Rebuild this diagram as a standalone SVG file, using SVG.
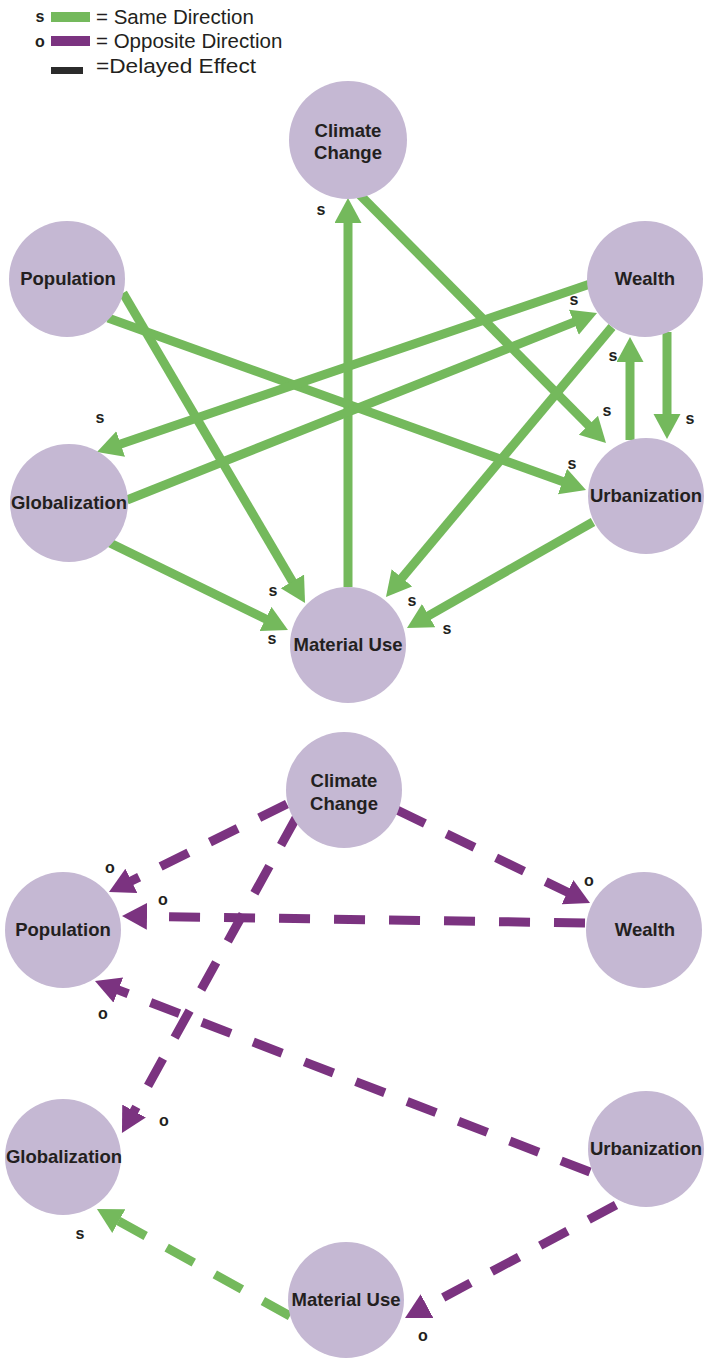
<svg xmlns="http://www.w3.org/2000/svg" width="706" height="1359" viewBox="0 0 706 1359">
<style>
.node{fill:#c5b8d3}
.lbl{font-family:"Liberation Sans",Arial,sans-serif;font-weight:bold;font-size:18.5px;fill:#231f20;text-anchor:middle}
.pol{font-family:"Liberation Sans",Arial,sans-serif;font-weight:bold;font-size:16px;fill:#231f20;text-anchor:middle}
.leg{font-family:"Liberation Sans",Arial,sans-serif;font-size:20.5px;fill:#231f20}
.g{stroke:#74b95c;stroke-width:9;fill:none;marker-end:url(#ag)}
.p{stroke:#7b3380;stroke-width:9;fill:none;marker-end:url(#ap)}
.d{stroke-dasharray:31 24}
</style>
<defs>
<marker id="ag" markerUnits="userSpaceOnUse" markerWidth="30" markerHeight="30" refX="3" refY="13.5" orient="auto" viewBox="0 0 30 30">
<path d="M0,0 L25,13.5 L0,27 z" fill="#74b95c"/>
</marker>
<marker id="ap" markerUnits="userSpaceOnUse" markerWidth="30" markerHeight="30" refX="3" refY="13.5" orient="auto" viewBox="0 0 30 30">
<path d="M0,0 L25,13.5 L0,27 z" fill="#7b3380"/>
</marker>
</defs>

<g id="legend">
<text class="pol" x="40" y="22">s</text>
<rect x="51" y="12" width="39" height="10" fill="#74b95c"/>
<text class="leg" x="96" y="24">= Same Direction</text>
<text class="pol" x="40" y="47">o</text>
<rect x="51" y="36" width="39" height="10" fill="#7b3380"/>
<text class="leg" x="96" y="48">= Opposite Direction</text>
<rect x="51" y="67" width="32" height="7" fill="#2b2b2b"/>
<text class="leg" x="96" y="73" textLength="160" lengthAdjust="spacingAndGlyphs">=Delayed Effect</text>
</g>

<g id="connectors">
<!-- top: same direction -->
<line class="g" x1="348" y1="587" x2="348" y2="220"/>
<line class="g" x1="360" y1="195" x2="590.5" y2="427.4"/>
<line class="g" x1="123" y1="293" x2="293.9" y2="584"/>
<line class="g" x1="108" y1="318" x2="565.3" y2="482.5"/>
<line class="g" x1="590" y1="284" x2="117.8" y2="444.9"/>
<line class="g" x1="127" y1="500" x2="576.6" y2="321.1"/>
<line class="g" x1="110" y1="543" x2="268.2" y2="620.3"/>
<line class="g" x1="612" y1="327" x2="400.1" y2="580.1"/>
<line class="g" x1="593" y1="522" x2="426.1" y2="617.1"/>
<line class="g" x1="630" y1="440" x2="630" y2="359"/>
<line class="g" x1="667" y1="332" x2="667" y2="417"/>
<!-- bottom: delayed -->
<line class="p d" x1="287" y1="804" x2="128.7" y2="882.3"/>
<line class="p d" x1="585" y1="923" x2="144" y2="916.3"/>
<line class="p d" x1="397" y1="810" x2="570.2" y2="893.5"/>
<line class="p d" x1="296" y1="818" x2="132.6" y2="1113.7"/>
<line class="p d" x1="590" y1="1172" x2="115.5" y2="988.9"/>
<line class="p d" x1="616" y1="1205" x2="424.4" y2="1307.6"/>
<line class="g d" x1="290" y1="1316" x2="116.2" y2="1219.7"/>
<!-- polarity labels -->
<text class="pol" x="321" y="215">s</text>
<text class="pol" x="607" y="416">s</text>
<text class="pol" x="574" y="305">s</text>
<text class="pol" x="613" y="361">s</text>
<text class="pol" x="690" y="424">s</text>
<text class="pol" x="100" y="423">s</text>
<text class="pol" x="572" y="469">s</text>
<text class="pol" x="273" y="596">s</text>
<text class="pol" x="272" y="644">s</text>
<text class="pol" x="412" y="606">s</text>
<text class="pol" x="447" y="634">s</text>
<text class="pol" x="110" y="873">o</text>
<text class="pol" x="163" y="905">o</text>
<text class="pol" x="589" y="886">o</text>
<text class="pol" x="103" y="1019">o</text>
<text class="pol" x="164" y="1126">o</text>
<text class="pol" x="423" y="1341">o</text>
<text class="pol" x="80" y="1239">s</text>
</g>

<g id="top-climate"><circle class="node" cx="348" cy="140" r="59"/><text class="lbl" x="348" y="137">Climate</text><text class="lbl" x="348" y="159">Change</text></g>
<g id="top-population"><circle class="node" cx="67" cy="279" r="58"/><text class="lbl" x="68" y="285">Population</text></g>
<g id="top-wealth"><circle class="node" cx="645" cy="279" r="58"/><text class="lbl" x="645" y="285">Wealth</text></g>
<g id="top-globalization"><circle class="node" cx="69" cy="503" r="59"/><text class="lbl" x="69" y="509">Globalization</text></g>
<g id="top-urbanization"><circle class="node" cx="646" cy="496" r="58"/><text class="lbl" x="646" y="502">Urbanization</text></g>
<g id="top-material"><circle class="node" cx="348" cy="645" r="58"/><text class="lbl" x="348" y="651">Material Use</text></g>

<g id="bot-climate"><circle class="node" cx="344" cy="790" r="58"/><text class="lbl" x="344" y="787">Climate</text><text class="lbl" x="344" y="810">Change</text></g>
<g id="bot-population"><circle class="node" cx="63" cy="930" r="58"/><text class="lbl" x="63" y="936">Population</text></g>
<g id="bot-wealth"><circle class="node" cx="644" cy="930" r="58"/><text class="lbl" x="645" y="936">Wealth</text></g>
<g id="bot-globalization"><circle class="node" cx="63" cy="1157" r="58"/><text class="lbl" x="64" y="1163">Globalization</text></g>
<g id="bot-urbanization"><circle class="node" cx="646" cy="1149" r="58"/><text class="lbl" x="646" y="1155">Urbanization</text></g>
<g id="bot-material"><circle class="node" cx="346" cy="1300" r="58"/><text class="lbl" x="346" y="1306">Material Use</text></g>
</svg>
